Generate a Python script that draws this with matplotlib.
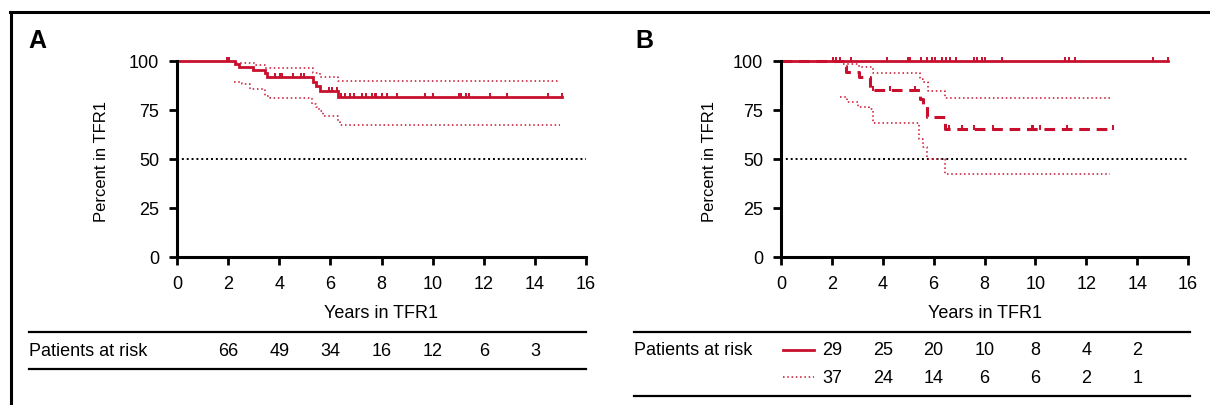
import numpy as np
import matplotlib
matplotlib.use('Agg')
import matplotlib.pyplot as plt
from matplotlib.lines import Line2D
from matplotlib.transforms import blended_transform_factory

plt.rcParams['font.family'] = ['Liberation Sans', 'DejaVu Sans']

RED = '#c8102e'

# ---- panel A : all patients ----
a_times = [0, 2.27, 2.43, 2.96, 3.44, 3.53, 5.33, 5.43, 5.59, 6.30]
a_surv = [100, 98.5, 96.8, 95.4, 93.7, 91.7, 89.1, 87.4, 84.9, 81.8]
a_end = 15.05
a_censor = [1.94, 2.03, 3.83, 4.02, 4.09, 4.54, 4.87, 4.98, 5.95, 6.08, 6.24,
            6.43, 6.56, 6.76, 6.93, 7.24, 7.41, 7.63, 7.73, 7.80, 8.02, 8.23,
            8.62, 9.71, 10.01, 11.02, 11.12, 11.32, 11.42, 12.23, 12.92, 14.53, 15.05]
a_up_times = [2.30, 3.05, 3.44, 5.33, 5.59, 6.30]
a_up_vals = [99.0, 98.0, 96.4, 93.9, 92.0, 90.0]
a_lo_times = [2.23, 2.53, 2.85, 3.44, 3.63, 5.30, 5.43, 5.56, 5.70, 6.30, 6.36]
a_lo_vals = [89.5, 88.2, 85.7, 82.3, 81.0, 78.1, 76.4, 74.7, 72.1, 69.5, 67.3]
a_ci_end = 15.0

# ---- panel B : two groups ----
b1_times = [0]
b1_surv = [100]
b1_end = 15.2
b1_censor = [2.04, 2.15, 2.30, 2.75, 4.18, 5.00, 5.07, 5.52, 5.75, 5.92, 6.05,
             6.32, 6.50, 6.65, 6.87, 7.57, 7.72, 7.89, 8.01, 8.70, 11.18, 11.33,
             11.55, 14.63, 15.2]

b2_times = [0, 2.42, 2.55, 3.08, 3.50, 5.46, 5.60, 5.72, 6.44]
b2_surv = [100, 97.3, 94.5, 91.7, 85.4, 80.6, 77.2, 71.3, 65.3]
b2_end = 13.05
b2_censor = [3.62, 4.3, 5.25, 6.6, 7.1, 7.6, 8.34, 9.85, 9.91, 10.18, 11.25, 13.05]
b2_up_times = [2.45, 3.08, 3.63, 5.46, 5.59, 5.79, 6.44]
b2_up_vals = [98.5, 96.8, 93.7, 90.8, 89.1, 84.9, 81.0]
b2_lo_times = [2.32, 2.58, 3.04, 3.45, 3.60, 5.44, 5.59, 5.72, 6.44]
b2_lo_vals = [81.8, 79.3, 76.4, 75.5, 68.4, 60.2, 56.0, 50.0, 42.3]
b2_ci_end = 12.95

risk_years = [2, 4, 6, 8, 10, 12, 14]
a_risk = [66, 49, 34, 16, 12, 6, 3]
b1_risk = [29, 25, 20, 10, 8, 4, 2]
b2_risk = [37, 24, 14, 6, 6, 2, 1]

W, H = 1210, 406
fig = plt.figure(figsize=(W / 100, H / 100), dpi=100)


def fx(x):
    return x / W


def fy(y):
    return 1 - y / H


CENSOR = [(0, -0.3), (0, 1)]


def km(ax, times, surv, end, censor=None, ls='-', lw=2.0):
    t = np.append(times, end)
    s = np.append(surv, surv[-1])
    ax.step(t, s, where='post', color=RED, lw=lw, ls=ls, clip_on=False,
            solid_joinstyle='miter')
    if censor is not None:
        idx = np.searchsorted(times, censor, side='right') - 1
        ax.plot(censor, np.array(surv)[idx], ls='none', marker=CENSOR, ms=6,
                mew=1.4, color=RED, clip_on=False)


def ci(ax, times, vals, end):
    t = np.append(times, end)
    s = np.append(vals, vals[-1])
    ax.step(t, s, where='post', color=RED, lw=1.1, ls=(0, (1, 1.8)), clip_on=False)


def setup(ax, label_x):
    for side in ['top', 'right']:
        ax.spines[side].set_visible(False)
    for side in ['left', 'bottom']:
        ax.spines[side].set_linewidth(2.2)
    ax.set_xlim(0, 16)
    ax.set_ylim(0, 100)
    ax.set_xticks(range(0, 17, 2))
    ax.set_yticks([0, 25, 50, 75, 100])
    ax.tick_params(direction='out', length=6, width=2, labelsize=13, pad=7)
    ax.axhline(50, color='black', lw=1.4, ls=(0, (1, 1.5)), clip_on=False)
    ax.set_xlabel('Years in TFR1', fontsize=13)
    ax.xaxis.label.set_va('center')
    ax.xaxis.set_label_coords(0.5, -(313 - 258) / 196)
    ax.set_ylabel('Percent in TFR1', fontsize=12)
    ax.yaxis.label.set_va('center')
    ax.yaxis.set_label_coords(label_x, (258 - 162) / 196)


axA = fig.add_axes([fx(177), fy(258), 409 / W, 196 / H])
setup(axA, (102 - 177) / 409)
ci(axA, a_up_times, a_up_vals, a_ci_end)
ci(axA, a_lo_times, a_lo_vals, a_ci_end)
km(axA, a_times, a_surv, a_end, a_censor)

axB = fig.add_axes([fx(781), fy(258), 407 / W, 196 / H])
setup(axB, (709 - 781) / 407)
ci(axB, b2_up_times, b2_up_vals, b2_ci_end)
ci(axB, b2_lo_times, b2_lo_vals, b2_ci_end)
km(axB, b2_times, b2_surv, b2_end, b2_censor, ls=(0, (3.5, 2.2)), lw=2.2)
km(axB, b1_times, b1_surv, b1_end, b1_censor)

# panel letters
fig.text(fx(28), fy(48), 'A', fontsize=18, fontweight='bold', va='baseline')
fig.text(fx(635), fy(48), 'B', fontsize=18, fontweight='bold', va='baseline')

# frame
fig.add_artist(Line2D([fx(10), 1], [fy(13), fy(13)], color='black', lw=2.2))
fig.add_artist(Line2D([fx(11), fx(11)], [fy(13), 0], color='black', lw=2.2))

# risk tables
for x0, x1, ys in [(29, 586, (332.5, 369.5)), (634, 1190, (333, 397))]:
    for y in ys:
        fig.add_artist(Line2D([fx(x0), fx(x1)], [fy(y), fy(y)], color='black', lw=1.6))

fig.text(fx(29), fy(352), 'Patients at risk', fontsize=13, va='center')
fig.text(fx(634), fy(351), 'Patients at risk', fontsize=13, va='center')

trA = blended_transform_factory(axA.transData, fig.transFigure)
for yr, n in zip(risk_years, a_risk):
    axA.text(yr, fy(352), str(n), transform=trA, ha='center', va='center', fontsize=13)

trB = blended_transform_factory(axB.transData, fig.transFigure)
for yr, n in zip(risk_years, b1_risk):
    axB.text(yr, fy(351), str(n), transform=trB, ha='center', va='center', fontsize=13)
for yr, n in zip(risk_years, b2_risk):
    axB.text(yr, fy(379), str(n), transform=trB, ha='center', va='center', fontsize=13)

fig.add_artist(Line2D([fx(783), fx(814)], [fy(351), fy(351)], color=RED, lw=2))
fig.add_artist(Line2D([fx(783), fx(814)], [fy(378), fy(378)], color=RED, lw=1.1,
                      ls=(0, (1, 1.8))))

fig.savefig('out.png', dpi=100)
